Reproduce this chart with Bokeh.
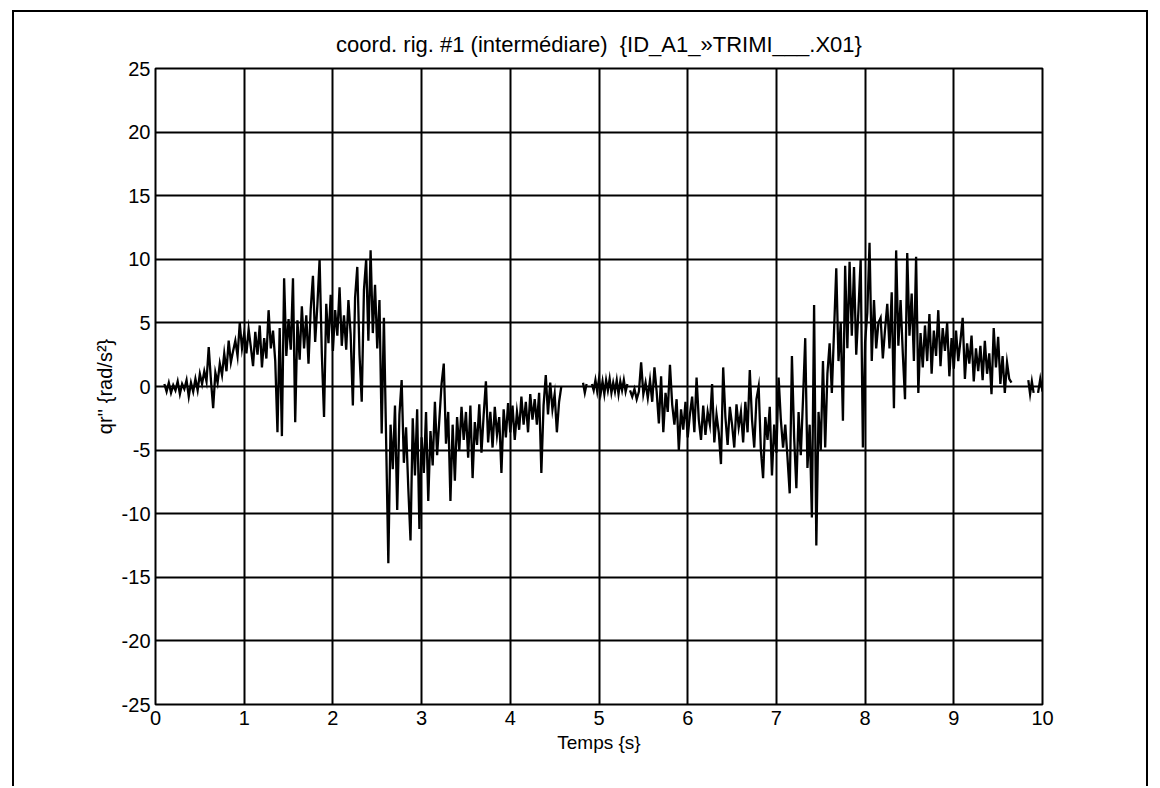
import numpy as np
from bokeh.plotting import figure
from bokeh.models import Range1d, FixedTicker
from bokeh.embed import file_html
from bokeh.resources import INLINE

# ---- data -----------------------------------------------------------------
title_text = "coord. rig. #1 (intermédiare)\u00a0 {ID_A1_»TRIMI___.X01}"
x_label = "Temps {s}"
y_label = "qr'' {rad/s²}"
x_ticks = [0, 1, 2, 3, 4, 5, 6, 7, 8, 9, 10]
y_ticks = [-25, -20, -15, -10, -5, 0, 5, 10, 15, 20, 25]

# segment 1: t = 0.100 .. 4.575 s, step 0.025 s
seg1_start, seg1_dt = 0.100, 0.025
seg1_q = [
    0.2, -0.4, 0.3, -0.5, 0.1, -0.3, 0.4, -0.6, 0.2, -0.2,
    0.5, -0.8, 0.3, -0.4, 0.6, -0.3, 1.0, 0.2, 1.2, 0.4,
    3.1, 0.5, -1.7, 1.1, 0.3, 1.8, 0.9, 2.6, 1.2, 3.6,
    1.9, 2.8, 3.6, 2.4, 5.0, 3.0, 4.2, 2.6, 4.5, 3.1,
    1.6, 4.3, 2.5, 4.8, 1.5, 3.8, 2.2, 6.0, 3.0, 4.4,
    2.0, -3.6, 4.6, -3.9, 8.5, 2.4, 5.3, 2.9, 8.5, -2.8,
    5.2, 2.1, 6.3, 3.0, 5.6, 1.8, 6.1, 8.7, 3.5, 6.4,
    10.0, 2.6, -2.4, 6.5, 3.4, 7.2, 2.8, 6.0, 4.0, 7.8,
    3.2, 5.6, 2.9, 6.8, 4.1, -1.5, 7.0, 9.4, 2.5, -1.2,
    7.6, 10.0, 3.6, 10.7, 4.2, 8.0, 3.0, 6.8, -3.7, 5.4,
    -4.2, -13.9, -3.0, -6.5, -1.5, -9.7, -2.2, 0.5, -6.0, -3.2,
    -8.0, -12.1, -2.5, -7.0, -1.8, -11.2, -4.0, -6.8, -2.0, -9.0,
    -3.5, -6.2, -1.2, -5.4, -2.6, 0.2, 1.8, -4.5, -2.0, -9.0,
    -3.0, -7.4, -2.4, -5.0, -1.6, -4.2, -2.0, -5.6, -1.5, -7.2,
    -2.8, -4.6, -1.4, -5.2, -2.2, 0.4, -4.4, -2.0, -4.8, -1.6,
    -3.8, -2.4, -6.8, -1.8, -4.0, -1.3, -3.6, -1.5, -4.2, -2.0,
    -3.4, -0.8, -3.0, -1.2, -3.6, -0.6, -2.6, -1.0, -3.0, -0.5,
    -6.8, -1.5, 0.9, -2.2, 0.3, -1.8, -0.6, -3.6, -1.2, 0.0,
]

# small pieces around t = 5 s
seg2_start, seg2_dt = 4.82, 0.02
seg2_q = [0.3, -0.5, 0.2]
seg3_start, seg3_dt = 4.92, 0.02
seg3_q = [0.2, -0.3, 0.5, -0.4, 0.6, -0.5, 0.4, -0.6, 0.5, -0.3, 0.6,
          -0.5, 0.3, -0.4, 0.5, -0.6, 0.4, -0.3, 0.5, -0.4, 0.2]

# segment 4: t = 5.350 .. 9.650 s, step 0.025 s
seg4_start, seg4_dt = 5.350, 0.025
seg4_q = [
    -0.3, -0.8, -0.2, -1.0, -0.4, 1.9, -0.6, 0.3, -0.9, 0.5,
    -1.2, 1.5, -0.4, -2.9, 0.8, -3.6, -0.5, -2.0, 1.7, -1.4,
    -3.0, -1.0, -5.0, -1.8, -3.4, -1.2, -4.0, -2.2, -0.8, -3.6,
    0.7, -2.6, -4.2, -1.5, -3.8, -2.0, -3.0, 0.2, -4.4, -2.2,
    -3.6, -6.1, 1.5, -2.4, -4.6, -1.6, -3.0, -4.8, -1.4, -3.2,
    -2.0, -4.4, -1.2, -3.6, 1.3, -2.6, -4.8, -1.0, 0.0, -5.0,
    -7.2, -2.4, -4.2, -1.6, -7.0, -3.0, -5.2, 0.7, -2.6, -4.8,
    -3.0, -5.6, -8.4, 2.4, -4.0, -8.0, -2.0, -5.4, -1.0, 3.8,
    -6.4, -3.0, -10.3, 6.4, -12.5, -2.0, -5.0, 2.0, -4.8, 1.0,
    3.4, -0.5, 4.4, 9.3, 2.0, 5.0, -2.7, 9.5, 3.0, 9.8,
    4.0, 9.4, 2.5, 6.0, 10.0, -4.8, 3.5, 5.8, 11.3, 2.0,
    6.8, 3.0, 5.0, 5.4, 2.2, 4.5, 6.5, 3.0, 7.4, -1.7,
    10.7, 3.2, 6.8, 2.6, -1.0, 10.5, 4.0, 7.3, 2.0, 10.2,
    -0.5, 4.2, 1.5, 4.8, 2.0, 5.7, 1.0, 4.4, 2.4, 6.0,
    1.6, 4.6, 2.8, 5.0, 0.8, 3.8, 1.4, 4.4, 2.0, 3.6,
    5.4, 0.6, 3.4, 1.8, 4.0, 0.4, 3.0, 1.2, 3.2, 0.5,
    3.6, 1.0, 2.6, -0.6, 4.6, 1.5, 3.9, 0.2, 2.4, -0.5,
    1.9, 0.6, 0.3,
]

# small pieces near t = 10 s
seg5_start, seg5_dt = 9.84, 0.02
seg5_q = [0.5, -0.6, 0.4, -0.5]
seg6_start, seg6_dt = 9.95, 0.025
seg6_q = [-0.5, 0.6, -0.4]

segments = [
    (seg1_start, seg1_dt, seg1_q),
    (seg2_start, seg2_dt, seg2_q),
    (seg3_start, seg3_dt, seg3_q),
    (seg4_start, seg4_dt, seg4_q),
    (seg5_start, seg5_dt, seg5_q),
    (seg6_start, seg6_dt, seg6_q),
]

t_all, q_all = [], []
for start, dt, vals in segments:
    t_all.extend(list(start + dt * np.arange(len(vals))))
    q_all.extend(vals)
    t_all.append(np.nan)
    q_all.append(np.nan)

# ---- figure ------------------------------------------------------------------
FONT = "Liberation Sans"

p = figure(
    width=1136, height=776,
    x_range=Range1d(0, 10), y_range=Range1d(-25, 25),
    output_backend="svg", toolbar_location=None,
    min_border_left=141, min_border_right=108,
    min_border_top=56, min_border_bottom=84,
    background_fill_color="white", border_fill_color="white",
)
p.styles = {
    "margin-left": "12px",
    "margin-top": "10px",
    "border-left": "2px solid black",
    "border-top": "2px solid black",
    "border-right": "2px solid black",
}

p.title.text = title_text
p.title.align = "center"
p.title.text_font = FONT
p.title.text_font_size = "22px"
p.title.text_font_style = "normal"
p.title.text_color = "black"
p.title.standoff = 23

p.outline_line_color = "black"
p.outline_line_width = 2
p.outline_line_alpha = 1.0

p.xaxis.ticker = FixedTicker(ticks=x_ticks)
p.yaxis.ticker = FixedTicker(ticks=y_ticks)
p.xaxis.major_label_overrides = {v: str(v) for v in x_ticks}
p.yaxis.major_label_overrides = {v: str(v) for v in y_ticks}
for ax in (p.xaxis[0], p.yaxis[0]):
    ax.major_tick_in = 0
    ax.major_tick_out = 0
    ax.minor_tick_line_color = None
    ax.axis_line_color = None
    ax.major_label_text_font = FONT
    ax.major_label_text_font_size = "20px"
    ax.major_label_text_color = "black"
    ax.axis_label_text_font = FONT
    ax.axis_label_text_font_size = "19px"
    ax.axis_label_text_font_style = "normal"
    ax.axis_label_text_color = "black"

p.xaxis.axis_label = x_label
p.yaxis.axis_label = y_label
p.yaxis.axis_label_text_font_size = "20px"
p.xaxis.major_label_standoff = 6
p.xaxis.axis_label_standoff = 4
p.yaxis.major_label_standoff = 5
p.yaxis.axis_label_standoff = 3

p.xgrid.grid_line_color = "black"
p.ygrid.grid_line_color = "black"
p.xgrid.grid_line_width = 2
p.ygrid.grid_line_width = 2
p.xgrid.grid_line_alpha = 1.0
p.ygrid.grid_line_alpha = 1.0

p.line(t_all, q_all, line_color="black", line_width=2.3, line_join="miter")

open("out.html", "w").write(file_html(p, INLINE))
